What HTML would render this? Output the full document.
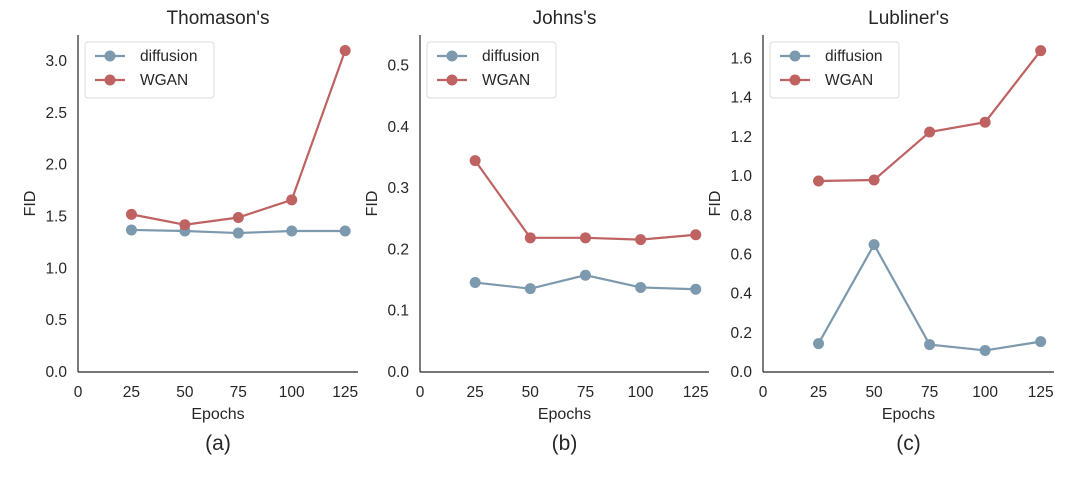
<!DOCTYPE html>
<html><head><meta charset="utf-8"><style>
body{margin:0;background:#fff;width:1080px;height:479px;overflow:hidden}
svg text{font-family:"Liberation Sans",sans-serif;fill:#262626}
</style></head><body>
<svg id="chart" width="1080" height="479" xmlns="http://www.w3.org/2000/svg"></svg>
<script>
const epochs=[25,50,75,100,125];
const thomasonDiffusion=[1.37,1.36,1.34,1.36,1.36];
const thomasonWgan=[1.52,1.42,1.49,1.66,3.10];
const johnsDiffusion=[0.146,0.136,0.158,0.138,0.135];
const johnsWgan=[0.345,0.219,0.219,0.216,0.224];
const lublinerDiffusion=[0.145,0.65,0.14,0.11,0.155];
const lublinerWgan=[0.975,0.98,1.225,1.275,1.64];
const titles=["Thomason's","Johns's","Lubliner's"];
const captions=["(a)","(b)","(c)"];
const xTicks=[0,25,50,75,100,125];
const yTicks1=[0,0.5,1.0,1.5,2.0,2.5,3.0];
const yTicks2=[0,0.1,0.2,0.3,0.4,0.5];
const yTicks3=[0,0.2,0.4,0.6,0.8,1.0,1.2,1.4,1.6];
const NS="http://www.w3.org/2000/svg";
const svg=document.getElementById('chart');
function mk(tag,attrs,parent){const e=document.createElementNS(NS,tag);for(const k in attrs)e.setAttribute(k,attrs[k]);(parent||svg).appendChild(e);return e;}
const panels=[
 {left:78,right:358,ymax:3.25,yTicks:yTicks1,dec:1,d:thomasonDiffusion,w:thomasonWgan},
 {left:420,right:709,ymax:0.55,yTicks:yTicks2,dec:1,d:johnsDiffusion,w:johnsWgan},
 {left:763,right:1054,ymax:1.72,yTicks:yTicks3,dec:1,d:lublinerDiffusion,w:lublinerWgan}];
const topY=35,bottomY=372;
const cD="#7d99ae",cW="#bf6262";
panels.forEach((p,i)=>{
 const g=mk('g',{});
 
 
 const x125=p.left+(p.right-p.left)*(125/131);
 const xs=v=>p.left+(x125-p.left)*v/125;
 const ys=v=>bottomY-(bottomY-topY)*v/p.ymax;
 const t=mk('text',{x:(p.left+p.right)/2,y:24,'text-anchor':'middle','font-size':19},g);t.textContent=titles[i];
 
 
 const ax=mk('g',{},g);
 
 
 mk('line',{x1:p.left,y1:topY,x2:p.left,y2:bottomY,stroke:'#262626','stroke-width':1.2},ax);
 mk('line',{x1:p.left,y1:bottomY,x2:p.right,y2:bottomY,stroke:'#262626','stroke-width':1.2},ax);
 xTicks.forEach(v=>{const e=mk('text',{x:xs(v),y:bottomY+25,'text-anchor':'middle','font-size':15.5},ax);e.textContent=v;
  
  });
 p.yTicks.forEach(v=>{const e=mk('text',{x:p.left-11,y:ys(v)+5,'text-anchor':'end','font-size':15.5},ax);e.textContent=v.toFixed(p.dec);
  
  });
 const xl=mk('text',{x:(p.left+p.right)/2,y:bottomY+47,'text-anchor':'middle','font-size':16},ax);xl.textContent='Epochs';
 
 
 const yl=mk('text',{x:0,y:0,'text-anchor':'middle','font-size':16,transform:`translate(${p.left-43},${(topY+bottomY)/2}) rotate(-90)`},ax);yl.textContent='FID';
 
 
 const cap=mk('text',{x:(p.left+p.right)/2,y:450,'text-anchor':'middle','font-size':21},g);cap.textContent=captions[i];
 
 
 [[p.d,cD,'diffusion'],[p.w,cW,'wgan']].forEach(([arr,c,n])=>{
  const s=mk('g',{},g);
  
  
  mk('polyline',{points:arr.map((v,j)=>xs(epochs[j])+','+ys(v)).join(' '),fill:'none',stroke:c,'stroke-width':2.2},s);
  arr.forEach((v,j)=>{const m=mk('circle',{cx:xs(epochs[j]),cy:ys(v),r:5.5,fill:c},s);
   
   });
 });
 const lg=mk('g',{},g);
 
 
 const lx=p.left+7;
 mk('rect',{x:lx,y:42,width:129,height:56,rx:3,fill:'#fff',stroke:'#dcdcdc','stroke-width':1},lg);
 [['diffusion',cD,56],['WGAN',cW,80]].forEach(([n,c,y])=>{
  mk('line',{x1:lx+10,y1:y,x2:lx+40,y2:y,stroke:c,'stroke-width':2.2},lg);
  mk('circle',{cx:lx+25,cy:y,r:5.5,fill:c},lg);
  const e=mk('text',{x:lx+55,y:y+5,'font-size':15.5},lg);e.textContent=n;
  
  
 });
});
</script>
</body></html>
